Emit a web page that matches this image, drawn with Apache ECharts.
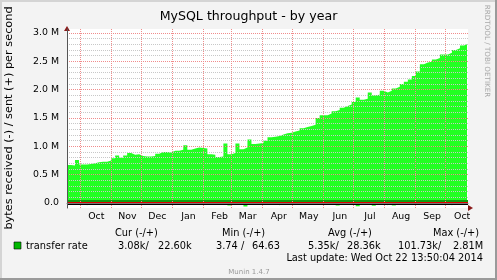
<!DOCTYPE html>
<html><head><meta charset="utf-8">
<script src="https://cdn.jsdelivr.net/npm/echarts@6/dist/echarts.min.js"></script>
<style>html,body{margin:0;padding:0;background:#f3f3f3}#c{width:497px;height:280px}</style>
</head><body><div id="c"></div>
<script>
// ---- data ----
const DAY = 86400000;
const axisStart = Date.UTC(2013, 8, 18, 6);
const axisEnd = Date.UTC(2014, 9, 23, 6);
const binDays = 4; // each value covers 4 days, starting at axisStart
const lastDay = 399;
const monthNames = ['Jan','Feb','Mar','Apr','May','Jun','Jul','Aug','Sep','Oct','Nov','Dec'];
// sent (+), in MB/s
const sentM = [
  0.67,0.66,0.76,0.68,0.68,0.69,0.70,0.72,0.73,0.73,
  0.75,0.79,0.84,0.80,0.84,0.88,0.85,0.86,0.83,0.82,
  0.82,0.83,0.87,0.90,0.90,0.89,0.92,0.92,0.94,1.02,
  0.94,0.96,0.98,0.97,0.96,0.86,0.85,0.81,0.82,1.05,
  0.86,0.88,1.05,0.95,0.98,1.12,1.04,1.05,1.06,1.10,
  1.16,1.17,1.18,1.21,1.23,1.24,1.26,1.28,1.32,1.34,
  1.36,1.38,1.50,1.55,1.55,1.58,1.62,1.64,1.68,1.71,
  1.74,1.78,1.86,1.82,1.84,1.95,1.90,1.91,1.98,1.95,
  1.98,2.02,2.05,2.10,2.14,2.18,2.24,2.32,2.45,2.48,
  2.49,2.53,2.56,2.62,2.62,2.65,2.70,2.73,2.78,2.80
];
// received (-), in kB/s
const recvK = [
  5,4,6,5,40,5,4,6,5,5,
  30,5,4,6,5,5,4,6,5,5,
  25,5,6,5,4,6,5,5,35,5,
  4,6,5,30,5,4,6,5,5,6,
  45,5,4,6,60,5,5,4,30,5,
  6,5,40,5,4,6,5,5,35,5,
  4,6,5,30,5,6,5,45,4,6,
  5,5,55,5,6,4,50,5,5,40,
  6,45,5,4,35,5,6,5,30,5,
  4,6,5,5,6,40,5,4,6,5
];
const legendName = 'transfer rate';
const statHeaders = ['Cur (-/+)','Min (-/+)','Avg (-/+)','Max (-/+)'];
const statRecv = ['3.08k/','3.74 /','5.35k/','101.73k/'];
const statSent = ['22.60k','64.63','28.36k','2.81M'];
const yTicks = [0, 500000, 1000000, 1500000, 2000000, 2500000, 3000000];

function stepData(arr, scale, sign) {
  const d = arr.map((v, i) => [axisStart + i * binDays * DAY, sign * v * scale]);
  d.push([axisStart + lastDay * DAY, sign * arr[arr.length - 1] * scale]);
  return d;
}

const FONT = 'DejaVu Sans';
const pink = '#f08c8c';
const minorGray = '#c8c8c8';
const chart = echarts.init(document.getElementById('c'));

const gX = 67, gW = 401;
const headX = [115, 222, 328, 433];
const recvX = [118, 216, 308, 398];
const sentX = [158, 252, 347, 453];

const graphics = [
  {type:'rect', shape:{x:0,y:0,width:497,height:2}, style:{fill:'#d4d4d4'}, silent:true},
  {type:'rect', shape:{x:0,y:0,width:2,height:280}, style:{fill:'#d4d4d4'}, silent:true},
  {type:'rect', shape:{x:495,y:0,width:2,height:280}, style:{fill:'#9a9a9a'}, silent:true},
  {type:'rect', shape:{x:0,y:278,width:497,height:2}, style:{fill:'#9a9a9a'}, silent:true},
  {type:'text', x:9, y:118, rotation:Math.PI/2, style:{text:'bytes received (-) / sent (+) per second', font:'11.3px "DejaVu Sans"', fill:'#000', textAlign:'center', textVerticalAlign:'middle'}},
  {type:'text', x:487, y:51, rotation:-Math.PI/2, style:{text:'RRDTOOL / TOBI OETIKER', font:'7.2px "DejaVu Sans"', fill:'#a8a8a8', textAlign:'center', textVerticalAlign:'middle'}},
  {type:'polygon', shape:{points:[[gX-3,31],[gX+3,31],[gX,26]]}, style:{fill:'#8b1a1a'}},
  {type:'polygon', shape:{points:[[gX+gW,205],[gX+gW,211],[gX+gW+5,208]]}, style:{fill:'#8b1a1a'}},
  {type:'rect', shape:{x:14,y:242,width:7,height:7}, style:{fill:'#00b800', stroke:'#000', lineWidth:0.6}},
  {type:'text', x:26, y:246, style:{text:legendName, font:'9.8px "DejaVu Sans"', fill:'#000', textVerticalAlign:'middle'}},
  {type:'text', x:483, y:258, style:{text:'Last update: Wed Oct 22 13:50:04 2014', font:'9.8px "DejaVu Sans"', fill:'#000', textAlign:'right', textVerticalAlign:'middle'}},
  {type:'text', x:249, y:272, style:{text:'Munin 1.4.7', font:'7px "DejaVu Sans"', fill:'#999', textAlign:'center', textVerticalAlign:'middle'}}
];
statHeaders.forEach((t,i)=>graphics.push({type:'text', x:headX[i], y:233, style:{text:t, font:'9.8px "DejaVu Sans"', fill:'#000', textVerticalAlign:'middle'}}));
statRecv.forEach((t,i)=>graphics.push({type:'text', x:recvX[i], y:246, style:{text:t, font:'9.8px "DejaVu Sans"', fill:'#000', textVerticalAlign:'middle'}}));
statSent.forEach((t,i)=>graphics.push({type:'text', x:sentX[i], y:246, style:{text:t, font:'9.8px "DejaVu Sans"', fill:'#000', textVerticalAlign:'middle'}}));

const option = {
  useUTC: true,
  animation: false,
  backgroundColor: '#f3f3f3',
  title: {text:'MySQL throughput - by year', left:'center', top:5, textStyle:{fontFamily:FONT, fontSize:12.6, fontWeight:'normal', color:'#000'}},
  grid: [
    {left:gX, top:29, width:gW, height:174, show:true, backgroundColor:'#fff', borderWidth:0},
    {left:gX, top:203, width:gW, height:5, show:true, backgroundColor:'#fff', borderWidth:0}
  ],
  xAxis: [
    {gridIndex:0, zlevel:1, type:'time', min:axisStart, max:axisEnd, splitNumber:13, minInterval:28*DAY, maxInterval:31*DAY,
     axisLine:{show:false}, axisTick:{show:false}, axisLabel:{show:false},
     splitLine:{show:true, showMinLine:false, showMaxLine:false, lineStyle:{color:pink, type:[1,1], width:1}}},
    {gridIndex:1, zlevel:1, type:'time', min:axisStart, max:axisEnd, splitNumber:13, minInterval:28*DAY, maxInterval:31*DAY,
     axisLine:{show:true, lineStyle:{color:'#777', width:1}}, axisTick:{show:false},
     axisLabel:{show:true, showMinLabel:false, showMaxLabel:false, hideOverlap:false, fontFamily:FONT, fontSize:9.4, color:'#000', margin:4, padding:[0,0,0,33],
       formatter:(v)=>monthNames[new Date(v).getUTCMonth()]},
     splitLine:{show:true, showMinLine:false, showMaxLine:false, lineStyle:{color:pink, type:[1,1], width:1}}}
  ],
  yAxis: [
    {gridIndex:0, zlevel:1, type:'value', min:0, max:3070000, interval:500000,
     axisLine:{show:true, lineStyle:{color:'#555'}}, axisTick:{show:false},
     axisLabel:{showMaxLabel:false, fontFamily:FONT, fontSize:9.4, color:'#000', margin:8,
       formatter:(v)=> yTicks.indexOf(v) < 0 ? '' : (v===0 ? '0.0' : (v/1e6).toFixed(1)+' M')},
     splitLine:{show:true, showMinLine:false, showMaxLine:false, lineStyle:{color:pink, type:[1,1]}},
     minorTick:{show:false, splitNumber:5},
     minorSplitLine:{show:true, lineStyle:{color:minorGray, type:[1,1]}}},
    {gridIndex:1, zlevel:1, type:'value', min:-88000, max:0,
     axisLine:{show:true, lineStyle:{color:'#555'}}, axisTick:{show:false}, axisLabel:{show:false}, splitLine:{show:false}}
  ],
  series: [
    {name:'sent', type:'line', xAxisIndex:0, yAxisIndex:0, step:'end', symbol:'none', silent:true,
     lineStyle:{width:0}, areaStyle:{color:'#22ff22', opacity:1}, data: stepData(sentM, 1e6, 1),
     markLine:{silent:true, symbol:'none', label:{show:false}, animation:false,
       data:[
         {yAxis:45000, lineStyle:{color:'#10a010', width:2, type:'solid'}},
         {yAxis:0, lineStyle:{color:'#e00000', width:2, type:'solid'}}
       ]}},
    {name:'received', type:'line', xAxisIndex:1, yAxisIndex:1, step:'end', symbol:'none', silent:true,
     lineStyle:{width:0}, areaStyle:{color:'#22ff22', opacity:1}, data: stepData(recvK, 1000, -1),
     markLine:{silent:true, symbol:'none', label:{show:false}, animation:false,
       data:[{yAxis:-18000, lineStyle:{color:'#000', width:1, type:'solid'}}]}}
  ],
  graphic: graphics
};
chart.setOption(option);
</script>
</body></html>
